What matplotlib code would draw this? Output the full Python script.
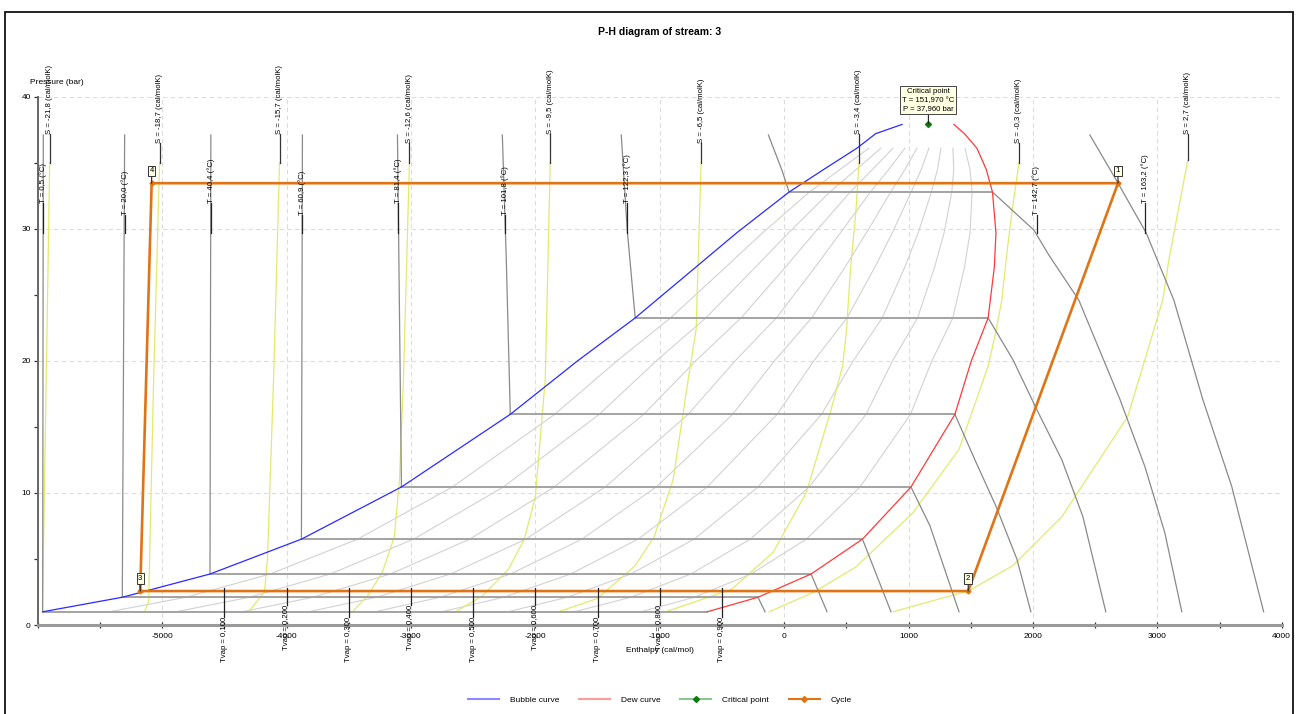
import numpy as np
import matplotlib
matplotlib.use("Agg")
import matplotlib.pyplot as plt
from matplotlib.lines import Line2D
from matplotlib.patches import Rectangle

plt.rcParams['font.family'] = ['Liberation Sans', 'DejaVu Sans']

# ---------------- data ----------------
# saturation pressures shared by bubble / dew curves (bar)
P_SAT = [1.0, 2.1, 3.86, 6.5, 10.45, 15.95, 20.0, 23.25, 27.1, 29.7, 32.78, 34.5, 36.1]
H_BUBBLE_SAT = [-5960, -5320, -4615, -3880, -3076, -2201, -1660, -1197, -709, -380, 40, 320, 585]
H_DEW_SAT = [-618, -210, 217, 630, 1020, 1373, 1505, 1640, 1690, 1703, 1675, 1625, 1550]
# upper ends of the curves near the critical point
P_TOP = [37.2, 37.9]
H_BUBBLE_TOP = [736, 948]
H_DEW_TOP = [1450, 1365]

CRIT_H, CRIT_P = 1160, 37.96
CRIT_LABEL = "Critical point\nT = 151,970 °C\nP = 37,960 bar"

# isotherms (enthalpy, pressure)
T_LABELS = ["0,5", "20,0", "40,4", "60,9", "81,4", "101,8", "122,3", "142,7", "163,2"]
T_LABEL_H = [-5955, -5300, -4607, -3878, -3101, -2240, -1263, 2029, 2905]
ISO_T_H = [
    [-5955, -5960, -618],
    [-5301, -5320, -210, -153],
    [-4608, -4615, 217, 345],
    [-3872, -3880, 630, 859],
    [-3108, -3076, 1020, 1173, 1406],
    [-2265, -2233, -2201, 1373, 1534, 1703, 1871, 1984],
    [-1309, -1261, -1197, 1640, 1839, 2032, 2233, 2402, 2586],
    [-126, -16, 40, 1675, 2008, 2129, 2369, 2699, 2900, 3060, 3197],
    [2458, 2684, 2910, 3133, 3365, 3598, 3855],
]
ISO_T_P = [
    [37.1, 1.0, 1.0],
    [37.1, 2.1, 2.1, 1.0],
    [37.1, 3.86, 3.86, 1.0],
    [37.1, 6.5, 6.5, 1.0],
    [37.1, 10.45, 10.45, 7.5, 1.0],
    [37.1, 27.6, 15.95, 15.95, 12.5, 9.0, 5.0, 1.0],
    [37.1, 29.9, 23.25, 23.25, 20.1, 16.3, 12.5, 8.2, 1.0],
    [37.1, 34.4, 32.78, 32.78, 29.9, 28.0, 24.6, 17.1, 12.0, 7.0, 1.0],
    [37.1, 33.46, 29.7, 24.6, 17.1, 10.5, 1.0],
]

# isentropes
S_LABELS = ["-21,8", "-18,7", "-15,7", "-12,6", "-9,5", "-6,5", "-3,4", "-0,3", "2,7"]
ISO_S_H = [
    [-5904, -5912, -5962],
    [-5020, -5068, -5108, -5141],
    [-4056, -4104, -4153, -4177, -4305],
    [-3012, -3060, -3092, -3133, -3229, -3349, -3470],
    [-1880, -1920, -2000, -2088, -2217, -2426, -2643],
    [-667, -707, -771, -892, -1044, -1197, -1502, -1815],
    [602, 578, 535, 500, 470, 378, 177, -88, -422, -951],
    [1888, 1835, 1795, 1750, 1700, 1640, 1406, 1036, 578, 241, -120],
    [3245, 3092, 3044, 2763, 2233, 1839, 1486, 876],
]
ISO_S_P = [
    [35, 30, 1.0],
    [35, 18.6, 1.8, 1.0],
    [35, 18.6, 5.0, 2.5, 1.0],
    [35, 18.6, 11.0, 6.7, 4.0, 2.2, 1.0],
    [35, 18.6, 9.7, 6.5, 4.2, 2.2, 1.0],
    [35, 22.4, 18.6, 11.0, 6.7, 4.5, 2.0, 1.0],
    [35, 31.4, 27.1, 22.1, 19.6, 16.3, 10.0, 5.5, 2.7, 1.0],
    [35, 31.5, 28.5, 24.6, 22.1, 19.6, 13.3, 8.5, 4.4, 2.5, 1.0],
    [35.2, 27.6, 24.6, 15.8, 8.2, 4.5, 2.6, 1.0],
]

# vapour fraction lines
QUALITIES = [0.1, 0.2, 0.3, 0.4, 0.5, 0.6, 0.7, 0.8, 0.9]
Q_LABELS = ["0,100", "0,200", "0,300", "0,400", "0,500", "0,600", "0,700", "0,800", "0,900"]
Q_LABEL_H = [-4500, -4000, -3500, -3000, -2500, -2000, -1500, -1000, -500]
Q_LABEL_P = 2.78

# cycle
CYCLE_NAMES = ["1", "2", "3", "4"]
CYCLE_H = [2684, 1480, -5176, -5084]
CYCLE_P = [33.45, 2.57, 2.57, 33.45]

# ---------------- styles ----------------
C_BUBBLE = "#2a2aff"
C_DEW = "#ff3a3a"
C_ISO_T = "#8a8a8a"
C_TIE = "#a5a5a5"
C_QUAL = "#d2d2d2"
C_ISO_S = "#e2ea6e"
C_CYCLE = "#e07414"
C_CRIT = "#0a7a0a"
C_LEAD = "#222222"
FS = 6.0
FS_ANN = 5.6

W, H = 1299, 714
fig = plt.figure(figsize=(W / 100, H / 100), dpi=100)
ax = fig.add_axes([37.7 / W, 89 / H, 1244 / W, 528.3 / H])
ax.set_xlim(-6000, 4000)
ax.set_ylim(0, 40)

# grid
for gx in range(-5000, 4001, 1000):
    ax.axvline(gx, color="#dcdcdc", lw=0.8, ls=(0, (4, 3)), zorder=0)
for gy in (10, 20, 30, 40):
    ax.axhline(gy, color="#dcdcdc", lw=0.8, ls=(0, (4, 3)), zorder=0)

# quality lines (lever rule between bubble and dew enthalpy)
hb = np.array(H_BUBBLE_SAT, float)
hd = np.array(H_DEW_SAT, float)
for q in QUALITIES:
    ax.plot(hb + q * (hd - hb), P_SAT, color=C_QUAL, lw=0.8, zorder=1)

# isentropes
for hs, ps in zip(ISO_S_H, ISO_S_P):
    ax.plot(hs, ps, color=C_ISO_S, lw=0.9, zorder=2)

# isotherms and tie lines
for hs, ps in zip(ISO_T_H, ISO_T_P):
    ax.plot(hs, ps, color=C_ISO_T, lw=0.9, zorder=3)
    for i in range(len(ps) - 1):
        if ps[i] == ps[i + 1]:
            ax.plot([hs[i], hs[i + 1]], [ps[i], ps[i + 1]], color=C_TIE, lw=1.4, zorder=3)

# bubble / dew curves
ax.plot(H_BUBBLE_SAT + H_BUBBLE_TOP, P_SAT + P_TOP, color=C_BUBBLE, lw=0.9, zorder=4)
ax.plot(H_DEW_SAT + H_DEW_TOP, P_SAT + P_TOP, color=C_DEW, lw=0.9, zorder=4)

# critical point
ax.plot([CRIT_H], [CRIT_P], marker="D", ms=3, color=C_CRIT, zorder=6, clip_on=False)
ax.annotate(CRIT_LABEL, (CRIT_H, CRIT_P), xytext=(0, 8), textcoords="offset points",
            ha="center", va="bottom", fontsize=FS_ANN, linespacing=1.35,
            bbox=dict(boxstyle="square,pad=0.25", fc="#ffffe1", ec="#444444", lw=0.7),
            arrowprops=dict(arrowstyle="-", color=C_LEAD, lw=0.8, shrinkA=0, shrinkB=0),
            annotation_clip=False, zorder=7)

# cycle
ch = CYCLE_H + [CYCLE_H[0]]
cp = CYCLE_P + [CYCLE_P[0]]
ax.plot(ch, cp, color=C_CYCLE, lw=1.9, zorder=5, solid_joinstyle="miter")
ax.plot(CYCLE_H, CYCLE_P, ls="none", marker="D", ms=2.5, color=C_CYCLE, zorder=6)
for name, h, p in zip(CYCLE_NAMES, CYCLE_H, CYCLE_P):
    ax.annotate(name, (h, p), xytext=(0, 6.5), textcoords="offset points",
                ha="center", va="bottom", fontsize=FS_ANN,
                bbox=dict(boxstyle="square,pad=0.2", fc="#ffffe1", ec="#333333", lw=0.7),
                arrowprops=dict(arrowstyle="-", color=C_LEAD, lw=0.8, shrinkA=0, shrinkB=0),
                annotation_clip=False, zorder=7)

# isotherm labels
for i, (lab, h) in enumerate(zip(T_LABELS, T_LABEL_H)):
    ptop = 31.95 if i % 2 == 0 else 31.05
    ax.plot([h, h], [29.7, ptop], color=C_LEAD, lw=0.9, zorder=6)
    ax.text(h, ptop, f"T = {lab} (°C)", rotation=90, ha="center", va="bottom",
            fontsize=FS_ANN, zorder=7, clip_on=False)

# isentrope labels
for i, (lab, hs, ps) in enumerate(zip(S_LABELS, ISO_S_H, ISO_S_P)):
    ptop = 37.2 if i % 2 == 0 else 36.5
    ax.plot([hs[0], hs[0]], [ps[0], ptop], color="#333333", lw=0.9, zorder=6)
    ax.text(hs[0], ptop, f"S = {lab} (cal/molK)", rotation=90, ha="center", va="bottom",
            fontsize=FS_ANN, zorder=7, clip_on=False)

# vapour fraction labels
for i, (lab, h) in enumerate(zip(Q_LABELS, Q_LABEL_H)):
    pbot = 0.6 if i % 2 == 0 else 1.5
    ax.plot([h, h], [Q_LABEL_P, pbot], color=C_LEAD, lw=0.9, zorder=6, clip_on=False)
    ax.text(h, pbot, f"Tvap = {lab}", rotation=90, ha="center", va="top",
            fontsize=FS_ANN, zorder=7, clip_on=False)

# axes styling
for s in ("top", "right"):
    ax.spines[s].set_visible(False)
ax.spines["bottom"].set_color("#9a9a9a")
ax.spines["bottom"].set_linewidth(2.2)
ax.spines["left"].set_color("#666666")
ax.spines["left"].set_linewidth(1.4)
ax.set_xticks(range(-6000, 4001, 1000))
ax.set_xticklabels(["" if v == -6000 else str(v) for v in range(-6000, 4001, 1000)])
ax.set_xticks(range(-5500, 4000, 1000), minor=True)
ax.set_yticks([0, 10, 20, 30, 40])
ax.set_yticks([5, 15, 25, 35], minor=True)
ax.tick_params(axis="x", which="both", direction="inout", length=5, width=0.9,
               color="#333333", labelsize=FS, pad=3)
ax.tick_params(axis="y", which="both", direction="out", length=3, width=0.9,
               color="#333333", labelsize=FS, pad=2)

fig.text(30 / W, 1 - 82 / H, "Pressure (bar)", fontsize=FS, ha="left", va="center")
fig.text(659.7 / W, 1 - 650 / H, "Enthalpy (cal/mol)", fontsize=FS, ha="center", va="center")
fig.text(659.7 / W, 1 - 32 / H, "P-H diagram of stream: 3", fontsize=7.5,
         fontweight="bold", ha="center", va="center")

handles = [
    Line2D([], [], color="#8a8aff", lw=1.5),
    Line2D([], [], color="#ff9a9a", lw=1.5),
    Line2D([], [], color="#8cc88c", lw=1.5, marker="D", ms=3, mfc=C_CRIT, mec=C_CRIT),
    Line2D([], [], color=C_CYCLE, lw=1.5, marker="D", ms=3, mfc=C_CYCLE, mec=C_CYCLE),
]
fig.legend(handles, ["Bubble curve", "Dew curve", "Critical point", "Cycle"],
           loc="center", bbox_to_anchor=(659.7 / W, 1 - 700 / H), ncol=4, frameon=False,
           fontsize=FS, handlelength=3.7, handletextpad=1.3, columnspacing=2.4)

fig.add_artist(Rectangle((5 / W, -0.02), 1288 / W, (H - 12) / H + 0.02,
                         transform=fig.transFigure, fill=False, ec="#111111", lw=1.3))

fig.savefig("out.png", dpi=100)
